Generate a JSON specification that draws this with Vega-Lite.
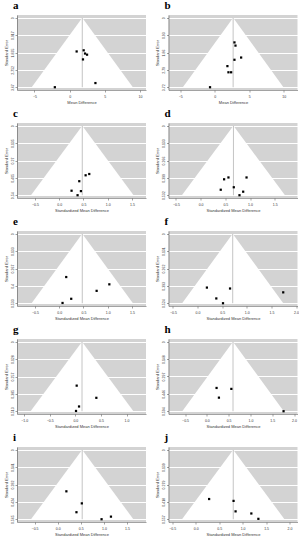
{
"$schema": "https://vega.github.io/schema/vega-lite/v6.json",
"padding": {"left": 4, "top": 0, "right": 0, "bottom": 0},
"background": "white",
"config": {
 "view": {"fill": "#d3d3d3", "stroke": null},
 "axis": {"labelFontSize": 3.5, "titleFontSize": 4, "labelFont": "Liberation Sans", "titleFont": "Liberation Sans", "tickSize": 2, "tickColor": "#444", "domainColor": "#444", "domainWidth": 0.5, "tickWidth": 0.5, "labelPadding": 1, "titlePadding": 2, "labelColor": "#333", "titleColor": "#333", "titleFontWeight": "normal", "labelOverlap": false, "labelFlush": false},
 "axisY": {"grid": true, "gridColor": "white", "gridWidth": 1, "labelAngle": 270, "labelAlign": "center", "labelBaseline": "bottom"},
 "axisX": {"grid": false, "labelPadding": 2, "titlePadding": 3},
 "title": {"anchor": "start", "frame": "group", "fontSize": 11, "font": "Liberation Serif", "fontWeight": "bold", "offset": 0, "dx": -4, "color": "black"},
 "concat": {"spacing": 9.5}
},
"datasets": {
 "a": [
  {"k":"tri","se":0,"x":1.8,"x2":1.8},{"k":"tri","se":3.67,"x":-5.393,"x2":8.993},
  {"k":"ref","x":1.8,"se":0,"se2":3.67},
  {"k":"pt","x":1.0,"se":1.78},{"k":"pt","x":2.0,"se":1.72},{"k":"pt","x":2.19,"se":1.89},{"k":"pt","x":2.48,"se":1.95},{"k":"pt","x":1.9,"se":2.2},{"k":"pt","x":-2.1,"se":3.67},{"k":"pt","x":3.67,"se":3.45}
 ],
 "b": [
  {"k":"tri","se":0,"x":2.67,"x2":2.67},{"k":"tri","se":3.72,"x":-4.621,"x2":9.961},
  {"k":"ref","x":2.67,"se":0,"se2":3.72},
  {"k":"pt","x":2.86,"se":1.32},{"k":"pt","x":3.01,"se":1.49},{"k":"pt","x":3.83,"se":2.13},{"k":"pt","x":2.86,"se":2.25},{"k":"pt","x":1.84,"se":2.59},{"k":"pt","x":1.99,"se":2.92},{"k":"pt","x":2.38,"se":2.92},{"k":"pt","x":-0.68,"se":3.72}
 ],
 "c": [
  {"k":"tri","se":0,"x":0.476,"x2":0.476},{"k":"tri","se":0.54,"x":-0.582,"x2":1.534},
  {"k":"ref","x":0.476,"se":0,"se2":0.54},
  {"k":"pt","x":0.62,"se":0.375},{"k":"pt","x":0.545,"se":0.385},{"k":"pt","x":0.414,"se":0.431},{"k":"pt","x":0.255,"se":0.505},{"k":"pt","x":0.448,"se":0.508},{"k":"pt","x":0.379,"se":0.54}
 ],
 "d": [
  {"k":"tri","se":0,"x":0.664,"x2":0.664},{"k":"tri","se":0.532,"x":-0.379,"x2":1.707},
  {"k":"ref","x":0.664,"se":0,"se2":0.532},
  {"k":"pt","x":0.563,"se":0.396},{"k":"pt","x":0.475,"se":0.41},{"k":"pt","x":0.929,"se":0.396},{"k":"pt","x":0.407,"se":0.49},{"k":"pt","x":0.671,"se":0.471},{"k":"pt","x":0.861,"se":0.505},{"k":"pt","x":0.786,"se":0.532}
 ],
 "e": [
  {"k":"tri","se":0,"x":0.476,"x2":0.476},{"k":"tri","se":0.533,"x":-0.569,"x2":1.521},
  {"k":"ref","x":0.476,"se":0,"se2":0.533},
  {"k":"pt","x":0.145,"se":0.332},{"k":"pt","x":1.034,"se":0.388},{"k":"pt","x":0.772,"se":0.438},{"k":"pt","x":0.248,"se":0.499},{"k":"pt","x":0.069,"se":0.531}
 ],
 "f": [
  {"k":"tri","se":0,"x":0.714,"x2":0.714},{"k":"tri","se":0.524,"x":-0.313,"x2":1.741},
  {"k":"ref","x":0.714,"se":0,"se2":0.524},
  {"k":"pt","x":0.19,"se":0.406},{"k":"pt","x":0.66,"se":0.413},{"k":"pt","x":1.74,"se":0.442},{"k":"pt","x":0.381,"se":0.488},{"k":"pt","x":0.517,"se":0.524}
 ],
 "g": [
  {"k":"tri","se":0,"x":0.13,"x2":0.13},{"k":"tri","se":0.513,"x":-0.875,"x2":1.135},
  {"k":"ref","x":0.13,"se":0,"se2":0.513},
  {"k":"pt","x":0.026,"se":0.324},{"k":"pt","x":0.41,"se":0.414},{"k":"pt","x":0.072,"se":0.478},{"k":"pt","x":0.013,"se":0.511}
 ],
 "h": [
  {"k":"tri","se":0,"x":0.6,"x2":0.6},{"k":"tri","se":0.594,"x":-0.564,"x2":1.764},
  {"k":"ref","x":0.6,"se":0,"se2":0.594},
  {"k":"pt","x":0.223,"se":0.395},{"k":"pt","x":0.562,"se":0.403},{"k":"pt","x":0.277,"se":0.478},{"k":"pt","x":1.76,"se":0.594}
 ],
 "i": [
  {"k":"tri","se":0,"x":0.53,"x2":0.53},{"k":"tri","se":0.565,"x":-0.577,"x2":1.637},
  {"k":"ref","x":0.53,"se":0,"se2":0.565},
  {"k":"pt","x":0.188,"se":0.338},{"k":"pt","x":0.522,"se":0.436},{"k":"pt","x":0.406,"se":0.508},{"k":"pt","x":1.152,"se":0.544},{"k":"pt","x":0.949,"se":0.565}
 ],
 "j": [
  {"k":"tri","se":0,"x":0.8,"x2":0.8},{"k":"tri","se":0.557,"x":-0.292,"x2":1.892},
  {"k":"ref","x":0.8,"se":0,"se2":0.557},
  {"k":"pt","x":0.286,"se":0.395},{"k":"pt","x":0.807,"se":0.41},{"k":"pt","x":0.85,"se":0.494},{"k":"pt","x":1.186,"se":0.511},{"k":"pt","x":1.336,"se":0.554}
 ]
},
"vconcat": [
 {"hconcat": [
  {"title": "a", "width": 129, "height": 75, "data": {"name": "a"},
   "encoding": {"x": {"field": "x", "type": "quantitative", "scale": {"domain": [-7.48, 10.86], "nice": false, "zero": false}, "axis": {"values": [-5, 0, 5, 10], "title": "Mean Difference"}},
                "y": {"field": "se", "type": "quantitative", "scale": {"domain": [-0.147, 3.817], "reverse": true, "nice": false, "zero": false}, "axis": {"values": [0, 0.9175, 1.835, 2.7525, 3.67], "format": ".3~f", "title": "Standard Error"}}},
   "layer": [
    {"transform": [{"filter": "datum.k=='tri'"}], "mark": {"type": "area", "orient": "horizontal", "color": "white", "opacity": 1}, "encoding": {"x2": {"field": "x2"}}},
    {"transform": [{"filter": "datum.k=='ref'"}], "mark": {"type": "rule", "color": "#c4c4c4", "strokeWidth": 1}, "encoding": {"y2": {"field": "se2"}}},
    {"transform": [{"filter": "datum.k=='pt'"}], "mark": {"type": "square", "filled": true, "color": "black", "size": 5, "opacity": 1}, "encoding": {}}
   ]},
  {"title": "b", "width": 129, "height": 75, "data": {"name": "b"},
   "encoding": {"x": {"field": "x", "type": "quantitative", "scale": {"domain": [-6.7, 12.0], "nice": false, "zero": false}, "axis": {"values": [-5, 0, 5, 10], "title": "Mean Difference"}},
                "y": {"field": "se", "type": "quantitative", "scale": {"domain": [-0.149, 3.869], "reverse": true, "nice": false, "zero": false}, "axis": {"values": [0, 0.93, 1.86, 2.79, 3.72], "format": ".3~f", "title": "Standard Error"}}},
   "layer": [
    {"transform": [{"filter": "datum.k=='tri'"}], "mark": {"type": "area", "orient": "horizontal", "color": "white", "opacity": 1}, "encoding": {"x2": {"field": "x2"}}},
    {"transform": [{"filter": "datum.k=='ref'"}], "mark": {"type": "rule", "color": "#c4c4c4", "strokeWidth": 1}, "encoding": {"y2": {"field": "se2"}}},
    {"transform": [{"filter": "datum.k=='pt'"}], "mark": {"type": "square", "filled": true, "color": "black", "size": 5, "opacity": 1}, "encoding": {}}
   ]}
 ]},
 {"hconcat": [
  {"title": "c", "width": 129, "height": 75, "data": {"name": "c"},
   "encoding": {"x": {"field": "x", "type": "quantitative", "scale": {"domain": [-0.87, 1.79], "nice": false, "zero": false}, "axis": {"values": [-0.5, 0, 0.5, 1, 1.5], "title": "Standardized Mean Difference"}},
                "y": {"field": "se", "type": "quantitative", "scale": {"domain": [-0.0216, 0.5616], "reverse": true, "nice": false, "zero": false}, "axis": {"values": [0, 0.135, 0.27, 0.405, 0.54], "format": ".3~f", "title": "Standard Error"}}},
   "layer": [
    {"transform": [{"filter": "datum.k=='tri'"}], "mark": {"type": "area", "orient": "horizontal", "color": "white", "opacity": 1}, "encoding": {"x2": {"field": "x2"}}},
    {"transform": [{"filter": "datum.k=='ref'"}], "mark": {"type": "rule", "color": "#c4c4c4", "strokeWidth": 1}, "encoding": {"y2": {"field": "se2"}}},
    {"transform": [{"filter": "datum.k=='pt'"}], "mark": {"type": "square", "filled": true, "color": "black", "size": 5, "opacity": 1}, "encoding": {}}
   ]},
  {"title": "d", "width": 129, "height": 75, "data": {"name": "d"},
   "encoding": {"x": {"field": "x", "type": "quantitative", "scale": {"domain": [-0.65, 1.96], "nice": false, "zero": false}, "axis": {"values": [-0.5, 0, 0.5, 1, 1.5], "title": "Standardized Mean Difference"}},
                "y": {"field": "se", "type": "quantitative", "scale": {"domain": [-0.0213, 0.5533], "reverse": true, "nice": false, "zero": false}, "axis": {"values": [0, 0.133, 0.266, 0.399, 0.532], "format": ".3~f", "title": "Standard Error"}}},
   "layer": [
    {"transform": [{"filter": "datum.k=='tri'"}], "mark": {"type": "area", "orient": "horizontal", "color": "white", "opacity": 1}, "encoding": {"x2": {"field": "x2"}}},
    {"transform": [{"filter": "datum.k=='ref'"}], "mark": {"type": "rule", "color": "#c4c4c4", "strokeWidth": 1}, "encoding": {"y2": {"field": "se2"}}},
    {"transform": [{"filter": "datum.k=='pt'"}], "mark": {"type": "square", "filled": true, "color": "black", "size": 5, "opacity": 1}, "encoding": {}}
   ]}
 ]},
 {"hconcat": [
  {"title": "e", "width": 129, "height": 75, "data": {"name": "e"},
   "encoding": {"x": {"field": "x", "type": "quantitative", "scale": {"domain": [-0.87, 1.79], "nice": false, "zero": false}, "axis": {"values": [-0.5, 0, 0.5, 1, 1.5], "title": "Standardized Mean Difference"}},
                "y": {"field": "se", "type": "quantitative", "scale": {"domain": [-0.0213, 0.5543], "reverse": true, "nice": false, "zero": false}, "axis": {"values": [0, 0.13325, 0.2665, 0.39975, 0.533], "format": ".3~f", "title": "Standard Error"}}},
   "layer": [
    {"transform": [{"filter": "datum.k=='tri'"}], "mark": {"type": "area", "orient": "horizontal", "color": "white", "opacity": 1}, "encoding": {"x2": {"field": "x2"}}},
    {"transform": [{"filter": "datum.k=='ref'"}], "mark": {"type": "rule", "color": "#c4c4c4", "strokeWidth": 1}, "encoding": {"y2": {"field": "se2"}}},
    {"transform": [{"filter": "datum.k=='pt'"}], "mark": {"type": "square", "filled": true, "color": "black", "size": 5, "opacity": 1}, "encoding": {}}
   ]},
  {"title": "f", "width": 129, "height": 75, "data": {"name": "f"},
   "encoding": {"x": {"field": "x", "type": "quantitative", "scale": {"domain": [-0.59, 2.03], "nice": false, "zero": false}, "axis": {"values": [-0.5, 0, 0.5, 1, 1.5, 2], "title": "Standardized Mean Difference"}},
                "y": {"field": "se", "type": "quantitative", "scale": {"domain": [-0.021, 0.545], "reverse": true, "nice": false, "zero": false}, "axis": {"values": [0, 0.131, 0.262, 0.393, 0.524], "format": ".3~f", "title": "Standard Error"}}},
   "layer": [
    {"transform": [{"filter": "datum.k=='tri'"}], "mark": {"type": "area", "orient": "horizontal", "color": "white", "opacity": 1}, "encoding": {"x2": {"field": "x2"}}},
    {"transform": [{"filter": "datum.k=='ref'"}], "mark": {"type": "rule", "color": "#c4c4c4", "strokeWidth": 1}, "encoding": {"y2": {"field": "se2"}}},
    {"transform": [{"filter": "datum.k=='pt'"}], "mark": {"type": "square", "filled": true, "color": "black", "size": 5, "opacity": 1}, "encoding": {}}
   ]}
 ]},
 {"hconcat": [
  {"title": "g", "width": 129, "height": 75, "data": {"name": "g"},
   "encoding": {"x": {"field": "x", "type": "quantitative", "scale": {"domain": [-1.14, 1.38], "nice": false, "zero": false}, "axis": {"values": [-1, -0.5, 0, 0.5, 1], "title": "Standardized Mean Difference"}},
                "y": {"field": "se", "type": "quantitative", "scale": {"domain": [-0.0205, 0.5335], "reverse": true, "nice": false, "zero": false}, "axis": {"values": [0, 0.12825, 0.2565, 0.38475, 0.513], "format": ".3~f", "title": "Standard Error"}}},
   "layer": [
    {"transform": [{"filter": "datum.k=='tri'"}], "mark": {"type": "area", "orient": "horizontal", "color": "white", "opacity": 1}, "encoding": {"x2": {"field": "x2"}}},
    {"transform": [{"filter": "datum.k=='ref'"}], "mark": {"type": "rule", "color": "#c4c4c4", "strokeWidth": 1}, "encoding": {"y2": {"field": "se2"}}},
    {"transform": [{"filter": "datum.k=='pt'"}], "mark": {"type": "square", "filled": true, "color": "black", "size": 5, "opacity": 1}, "encoding": {}}
   ]},
  {"title": "h", "width": 129, "height": 75, "data": {"name": "h"},
   "encoding": {"x": {"field": "x", "type": "quantitative", "scale": {"domain": [-0.88, 2.08], "nice": false, "zero": false}, "axis": {"values": [-0.5, 0, 0.5, 1, 1.5, 2], "title": "Standardized Mean Difference"}},
                "y": {"field": "se", "type": "quantitative", "scale": {"domain": [-0.0238, 0.6178], "reverse": true, "nice": false, "zero": false}, "axis": {"values": [0, 0.1485, 0.297, 0.4455, 0.594], "format": ".3~f", "title": "Standard Error"}}},
   "layer": [
    {"transform": [{"filter": "datum.k=='tri'"}], "mark": {"type": "area", "orient": "horizontal", "color": "white", "opacity": 1}, "encoding": {"x2": {"field": "x2"}}},
    {"transform": [{"filter": "datum.k=='ref'"}], "mark": {"type": "rule", "color": "#c4c4c4", "strokeWidth": 1}, "encoding": {"y2": {"field": "se2"}}},
    {"transform": [{"filter": "datum.k=='pt'"}], "mark": {"type": "square", "filled": true, "color": "black", "size": 5, "opacity": 1}, "encoding": {}}
   ]}
 ]},
 {"hconcat": [
  {"title": "i", "width": 129, "height": 75, "data": {"name": "i"},
   "encoding": {"x": {"field": "x", "type": "quantitative", "scale": {"domain": [-0.88, 1.91], "nice": false, "zero": false}, "axis": {"values": [-0.5, 0, 0.5, 1, 1.5], "title": "Standardized Mean Difference"}},
                "y": {"field": "se", "type": "quantitative", "scale": {"domain": [-0.0226, 0.5876], "reverse": true, "nice": false, "zero": false}, "axis": {"values": [0, 0.14125, 0.2825, 0.42375, 0.565], "format": ".3~f", "title": "Standard Error"}}},
   "layer": [
    {"transform": [{"filter": "datum.k=='tri'"}], "mark": {"type": "area", "orient": "horizontal", "color": "white", "opacity": 1}, "encoding": {"x2": {"field": "x2"}}},
    {"transform": [{"filter": "datum.k=='ref'"}], "mark": {"type": "rule", "color": "#c4c4c4", "strokeWidth": 1}, "encoding": {"y2": {"field": "se2"}}},
    {"transform": [{"filter": "datum.k=='pt'"}], "mark": {"type": "square", "filled": true, "color": "black", "size": 5, "opacity": 1}, "encoding": {}}
   ]},
  {"title": "j", "width": 129, "height": 75, "data": {"name": "j"},
   "encoding": {"x": {"field": "x", "type": "quantitative", "scale": {"domain": [-0.58, 2.17], "nice": false, "zero": false}, "axis": {"values": [-0.5, 0, 0.5, 1, 1.5, 2], "title": "Standardized Mean Difference"}},
                "y": {"field": "se", "type": "quantitative", "scale": {"domain": [-0.0223, 0.5793], "reverse": true, "nice": false, "zero": false}, "axis": {"values": [0, 0.13925, 0.2785, 0.41775, 0.557], "format": ".3~f", "title": "Standard Error"}}},
   "layer": [
    {"transform": [{"filter": "datum.k=='tri'"}], "mark": {"type": "area", "orient": "horizontal", "color": "white", "opacity": 1}, "encoding": {"x2": {"field": "x2"}}},
    {"transform": [{"filter": "datum.k=='ref'"}], "mark": {"type": "rule", "color": "#c4c4c4", "strokeWidth": 1}, "encoding": {"y2": {"field": "se2"}}},
    {"transform": [{"filter": "datum.k=='pt'"}], "mark": {"type": "square", "filled": true, "color": "black", "size": 5, "opacity": 1}, "encoding": {}}
   ]}
 ]}
],
"spacing": 3
}
